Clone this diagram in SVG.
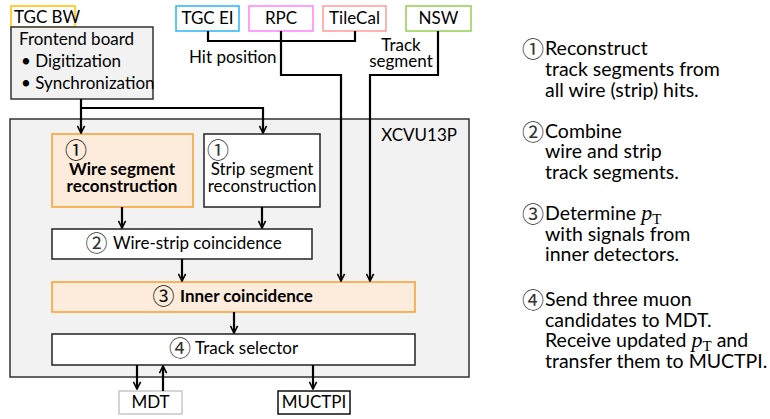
<svg xmlns="http://www.w3.org/2000/svg" width="770" height="419" viewBox="0 0 770 419">
  <style>
    text { font-family: Lato, "Noto Sans CJK JP", sans-serif; font-size: 17px; fill: #000; }
    .c { text-anchor: middle; }
    .b { font-weight: bold; }
    .num { font-family: "Noto Sans CJK JP", sans-serif; font-size: 22px; fill: #333; font-weight: normal; }
    .note { font-size: 19.5px; }
    .box { stroke: #222; stroke-width: 1.5; fill: #fff; }
    .gray { fill: #f2f2f2; stroke: #333; stroke-width: 1.5; }
    .hl { fill: #fdebdb; stroke: #f7a43a; stroke-width: 1.6; }
    .wire { fill: none; stroke: #000; stroke-width: 2.2; }
    .math { font-family: "Liberation Serif", serif; font-style: italic; font-size: 22px; }
    .sub { font-family: "Liberation Serif", serif; font-size: 15px; }
  </style>
  <defs>
    <marker id="arr" viewBox="0 0 10 10" refX="9" refY="5" markerWidth="9" markerHeight="9" orient="auto" markerUnits="userSpaceOnUse">
      <path d="M1,1 L9,5 L1,9" fill="none" stroke="#000" stroke-width="1.8"/>
    </marker>
  </defs>

  <!-- FPGA container -->
  <g id="xcvu13p">
    <rect x="10" y="119" width="459" height="258" class="gray"/>
    <text x="457" y="141" text-anchor="end">XCVU13P</text>
  </g>

  <!-- Sources -->
  <g id="tgc-bw">
    <rect x="11" y="6" width="64" height="21" fill="#fff" stroke="#ffc000" stroke-width="1.5"/>
    <text x="14" y="23">TGC BW</text>
  </g>
  <g id="frontend">
    <rect x="11" y="27" width="142" height="72" class="gray"/>
    <text x="19" y="45">Frontend board</text>
    <text x="21" y="67">• Digitization</text>
    <text x="21" y="89">• Synchronization</text>
  </g>
  <g id="tgc-ei">
    <rect x="176" y="6" width="63" height="25" fill="#fff" stroke="#29b6f6" stroke-width="1.5"/>
    <text x="207.5" y="24" class="c">TGC EI</text>
  </g>
  <g id="rpc">
    <rect x="249" y="6" width="64" height="25" fill="#fff" stroke="#ff80ff" stroke-width="1.5"/>
    <text x="281" y="24" class="c">RPC</text>
  </g>
  <g id="tilecal">
    <rect x="323" y="6" width="63" height="25" fill="#fff" stroke="#ff9a9a" stroke-width="1.5"/>
    <text x="354.5" y="24" class="c">TileCal</text>
  </g>
  <g id="nsw">
    <rect x="406" y="6" width="65" height="25" fill="#fff" stroke="#92d050" stroke-width="1.5"/>
    <text x="438.5" y="24" class="c">NSW</text>
  </g>

  <!-- Processing blocks -->
  <g id="wire-seg">
    <rect x="52" y="134" width="141" height="73" class="hl"/>
    <text x="76" y="158" class="c num" style="fill:#111">①</text>
    <text x="122" y="175" class="c b">Wire segment</text>
    <text x="122" y="192" class="c b">reconstruction</text>
  </g>
  <g id="strip-seg">
    <rect x="204" y="134" width="116" height="73" class="box"/>
    <text x="218" y="158" class="c num">①</text>
    <text x="262" y="175" class="c">Strip segment</text>
    <text x="262" y="192" class="c">reconstruction</text>
  </g>
  <g id="wire-strip">
    <rect x="52" y="229" width="260" height="30" class="box"/>
    <text x="96.5" y="251" class="c num">②</text>
    <text x="113" y="249">Wire-strip coincidence</text>
  </g>
  <g id="inner">
    <rect x="52" y="282" width="363" height="30" class="hl"/>
    <text x="163.5" y="304" class="c num" style="fill:#111">③</text>
    <text x="180" y="302" class="b">Inner coincidence</text>
  </g>
  <g id="track-sel">
    <rect x="52" y="334" width="363" height="31" class="box"/>
    <text x="180" y="356" class="c num">④</text>
    <text x="195" y="354">Track selector</text>
  </g>

  <!-- Sinks -->
  <g id="mdt">
    <rect x="119" y="391" width="63" height="23" fill="#fff" stroke="#c8c8c8" stroke-width="1.5"/>
    <text x="150.5" y="408" class="c">MDT</text>
  </g>
  <g id="muctpi">
    <rect x="278" y="391" width="72" height="23" fill="#fff" stroke="#111" stroke-width="1.5"/>
    <text x="314" y="408" class="c">MUCTPI</text>
  </g>

  <!-- Connectors -->
  <g id="connectors">
    <path class="wire" d="M81,99 V133" marker-end="url(#arr)"/>
    <path class="wire" d="M81,108 H263 V133" marker-end="url(#arr)"/>
    <path class="wire" d="M122,207 V228" marker-end="url(#arr)"/>
    <path class="wire" d="M262,207 V228" marker-end="url(#arr)"/>
    <path class="wire" d="M182,259 V281" marker-end="url(#arr)"/>
    <path class="wire" d="M234,312 V333" marker-end="url(#arr)"/>
    <path class="wire" d="M137,365 V389" marker-end="url(#arr)"/>
    <path class="wire" d="M163,391 V366" marker-end="url(#arr)"/>
    <path class="wire" d="M313,365 V389" marker-end="url(#arr)"/>
    <path class="wire" d="M208,31 V41 H355 V31"/>
    <path class="wire" d="M281,31 V75 H341 V281" marker-end="url(#arr)"/>
    <path class="wire" d="M438,31 V75 H370 V281" marker-end="url(#arr)"/>
    <text x="189" y="63">Hit position</text>
    <text x="401" y="51" class="c">Track</text>
    <text x="401" y="67" class="c">segment</text>
  </g>

  <!-- Step notes -->
  <g id="notes" class="note">
    <text x="533" y="57" class="c num">①</text>
    <text x="545" y="55" class="note">Reconstruct</text>
    <text x="545" y="76" class="note">track segments from</text>
    <text x="545" y="97" class="note">all wire (strip) hits.</text>
    <text x="533" y="140" class="c num">②</text>
    <text x="545" y="138" class="note">Combine</text>
    <text x="545" y="158" class="note">wire and strip</text>
    <text x="545" y="179" class="note">track segments.</text>
    <text x="533" y="222" class="c num">③</text>
    <text x="545" y="220" class="note">Determine <tspan class="math">p</tspan><tspan class="sub" dy="4">T</tspan></text>
    <text x="545" y="241" class="note">with signals from</text>
    <text x="545" y="261" class="note">inner detectors.</text>
    <text x="533" y="308" class="c num">④</text>
    <text x="545" y="306" class="note">Send three muon</text>
    <text x="545" y="327" class="note">candidates to MDT.</text>
    <text x="545" y="347" class="note">Receive updated <tspan class="math">p</tspan><tspan class="sub" dy="4">T</tspan><tspan dy="-4"> and</tspan></text>
    <text x="545" y="368" class="note">transfer them to MUCTPI.</text>
  </g>
</svg>
